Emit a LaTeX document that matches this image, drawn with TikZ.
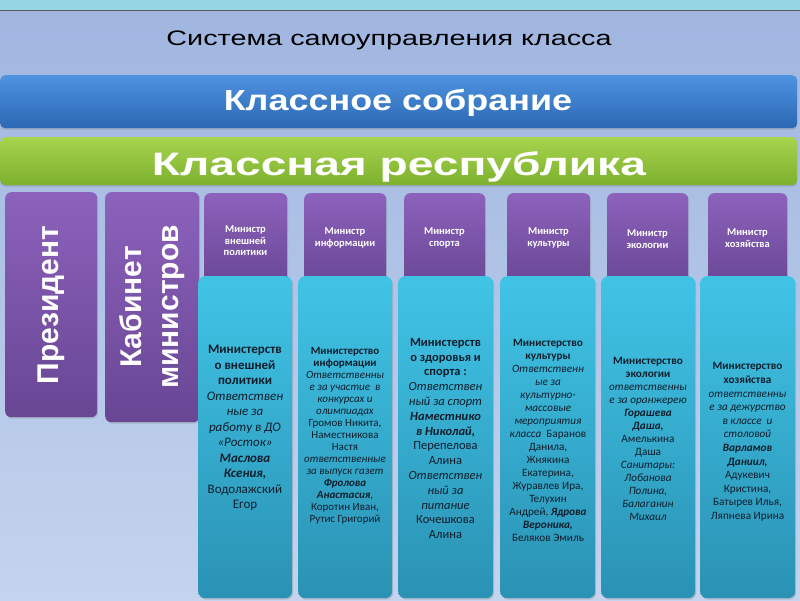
\documentclass[tikz,border=0pt]{standalone}
\usepackage{fontspec}
\usepackage{graphicx}
\setmainfont{Carlito}
\newfontfamily\arialf{Liberation Sans}
\usetikzlibrary{shadows}
\definecolor{bgtop}{RGB}{160,182,224}
\definecolor{bgbot}{RGB}{196,212,238}
\definecolor{strip}{RGB}{150,214,228}
\definecolor{bluetop}{RGB}{78,146,224}
\definecolor{bluebot}{RGB}{44,104,180}
\definecolor{greentop}{RGB}{168,212,78}
\definecolor{greenbot}{RGB}{124,176,46}
\definecolor{purtop}{RGB}{140,98,188}
\definecolor{purbot}{RGB}{104,70,148}
\definecolor{cyantop}{RGB}{64,196,230}
\definecolor{cyanbot}{RGB}{42,146,180}
\definecolor{txtdark}{RGB}{16,30,44}
\newcommand{\txb}[1]{\textbf{#1}}
\newcommand{\txi}[1]{\textit{#1}}
\newcommand{\txbi}[1]{\textbf{\textit{#1}}}
\begin{document}
\begin{tikzpicture}[x=1pt,y=-1pt,
  bar/.style={rounded corners=5pt, inner sep=0pt, anchor=north west, draw=none,
    drop shadow={opacity=0.35, shadow xshift=0pt, shadow yshift=-1.5pt}},
  bluebar/.style={bar, top color=bluetop, bottom color=bluebot},
  greenbar/.style={bar, top color=greentop, bottom color=greenbot},
  purbox/.style={rounded corners=6pt, inner sep=0pt, anchor=north west, draw=none,
    top color=purtop, bottom color=purbot,
    drop shadow={opacity=0.3, shadow xshift=1pt, shadow yshift=-1.5pt}},
  cyanbox/.style={rounded corners=7pt, inner sep=0pt, anchor=north west, draw=none,
    top color=cyantop, bottom color=cyanbot,
    drop shadow={opacity=0.3, shadow xshift=1pt, shadow yshift=-1.5pt}},
  bigtxt/.style={text=white, font=\arialf\bfseries, inner sep=0pt},
  mintxt/.style={text=white, align=center, inner sep=0pt,
    font=\bfseries\fontsize{10.5}{11.5}\selectfont},
  celltxt/.style={text=txtdark, align=center, inner sep=0pt}
]
\useasboundingbox (0,0) rectangle (800,600);
% background
\fill[top color=bgtop, bottom color=bgbot] (0,10) rectangle (800,600);
\fill[strip] (0,0) rectangle (800,10);
\draw[gray!70!black, line width=0.8pt] (0,10) -- (800,10);

% title
\node[font=\arialf\fontsize{21}{24}\selectfont, inner sep=0pt, anchor=base] (title) at (389,45) {\scalebox{1.37}[1]{Система самоуправления класса}};

% bars
\node[bluebar, minimum width=797pt, minimum height=53pt] (sobr) at (0,75) {};
\node[bigtxt, anchor=base, font=\arialf\bfseries\fontsize{29}{32}\selectfont] (sobrt) at (398,110) {\scalebox{1.24}[1]{Классное собрание}};
\node[greenbar, minimum width=797pt, minimum height=48pt] (resp) at (0,137) {};
\node[bigtxt, anchor=base, font=\arialf\bfseries\fontsize{32.5}{36}\selectfont] (respt) at (399,175) {\scalebox{1.42}[1]{Классная республика}};

% president & cabinet
\node[purbox, minimum width=92pt, minimum height=225pt] (pres) at (5,192) {};
\node[bigtxt, rotate=90, font=\arialf\bfseries\fontsize{30}{36}\selectfont] (prest) at (51,305) {Президент};
\node[purbox, minimum width=94pt, minimum height=230pt] (cab) at (105,192) {};
\node[bigtxt, rotate=90, align=center, font=\arialf\bfseries\fontsize{30}{37}\selectfont] (cabt) at (152,307) {Кабинет\\министров};

% minister boxes
\node[purbox, minimum width=83pt, minimum height=95pt] (m1) at (204,193) {};
\node[purbox, minimum width=82pt, minimum height=95pt] (m2) at (304,193) {};
\node[purbox, minimum width=81pt, minimum height=95pt] (m3) at (404,193) {};
\node[purbox, minimum width=83pt, minimum height=95pt] (m4) at (507,193) {};
\node[purbox, minimum width=81pt, minimum height=95pt] (m5) at (607,193) {};
\node[purbox, minimum width=79pt, minimum height=95pt] (m6) at (708,193) {};
\node[mintxt] (m1t) at (245.5,241) {Министр\\внешней\\политики};
\node[mintxt] (m2t) at (345,238) {Министр\\информации};
\node[mintxt] (m3t) at (444.5,238) {Министр\\спорта};
\node[mintxt] (m4t) at (548.5,238) {Министр\\культуры};
\node[mintxt] (m5t) at (647.5,239) {Министр\\экологии};
\node[mintxt] (m6t) at (747.5,238) {Министр\\хозяйства};

% ministry boxes
\node[cyanbox, minimum width=94pt, minimum height=322pt] (c1) at (198,276) {};
\node[cyanbox, minimum width=94pt, minimum height=322pt] (c2) at (298,276) {};
\node[cyanbox, minimum width=95pt, minimum height=322pt] (c3) at (398,276) {};
\node[cyanbox, minimum width=95pt, minimum height=322pt] (c4) at (500,276) {};
\node[cyanbox, minimum width=94pt, minimum height=322pt] (c5) at (601,276) {};
\node[cyanbox, minimum width=95pt, minimum height=322pt] (c6) at (700,276) {};

\node[celltxt, font=\fontsize{13}{15.5}\selectfont] (c1t) at (245,428) {%
\txb{Министерств}\\\txb{о внешней}\\\txb{политики}\\
\txi{Ответствен}\\\txi{ные за}\\\txi{работу в ДО}\\\txi{«Росток»}\\
\txbi{Маслова}\\\txbi{Ксения,}\\Водолажский\\Егор};

\node[celltxt, font=\fontsize{11}{12}\selectfont] (c2t) at (345,436) {%
\txb{Министерство}\\\txb{информации}\\
\txi{Ответственны}\\\txi{е за участие\ \ в}\\\txi{конкурсах и}\\\txi{олимпиадах}\\
Громов Никита,\\Наместникова\\Настя\\
\txi{ответственные}\\\txi{за выпуск газет}\\
\txbi{Фролова}\\\txbi{Анастасия},\\Коротин Иван,\\Рутис Григорий};

\node[celltxt, font=\fontsize{12.5}{14.8}\selectfont] (c3t) at (445.5,438.5) {%
\txb{Министерств}\\\txb{о здоровья и}\\\txb{спорта :}\\
\txi{Ответствен}\\\txi{ный за спорт}\\
\txbi{Наместнико}\\\txbi{в Николай,}\\
Перепелова\\Алина\\
\txi{Ответствен}\\\txi{ный за}\\\txi{питание}\\
Кочешкова\\Алина};

\node[celltxt, font=\fontsize{11.2}{13}\selectfont] (c4t) at (548,440) {%
\txb{Министерство}\\\txb{культуры}\\
\txi{Ответственн}\\\txi{ые за}\\\txi{культурно-}\\\txi{массовые}\\\txi{мероприятия}\\
\txi{класса}\ \ Баранов\\Данила,\\Жнякина\\Екатерина,\\Журавлев Ира,\\Телухин\\
Андрей, \txbi{Ядрова}\\\txbi{Вероника,}\\Беляков Эмиль};

\node[celltxt, font=\fontsize{11.2}{13}\selectfont] (c5t) at (648,438.5) {%
\txb{Министерство}\\\txb{экологии}\\
\txi{ответственны}\\\txi{е за оранжерею}\\
\txbi{Горашева}\\\txbi{Даша,}\\
Амелькина\\Даша\\
\txi{Санитары:}\\\txi{Лобанова}\\\txi{Полина,}\\\txi{Балаганин}\\\txi{Михаил}};

\node[celltxt, font=\fontsize{11.2}{13.6}\selectfont] (c6t) at (747.5,442) {%
\txb{Министерство}\\\txb{хозяйства}\\
\txi{ответственны}\\\txi{е за дежурство}\\\txi{в классе\ \ и}\\\txi{столовой}\\
\txbi{Варламов}\\\txbi{Даниил,}\\
Адукевич\\Кристина,\\Батырев Илья,\\Ляпнева Ирина};
\end{tikzpicture}
\end{document}
